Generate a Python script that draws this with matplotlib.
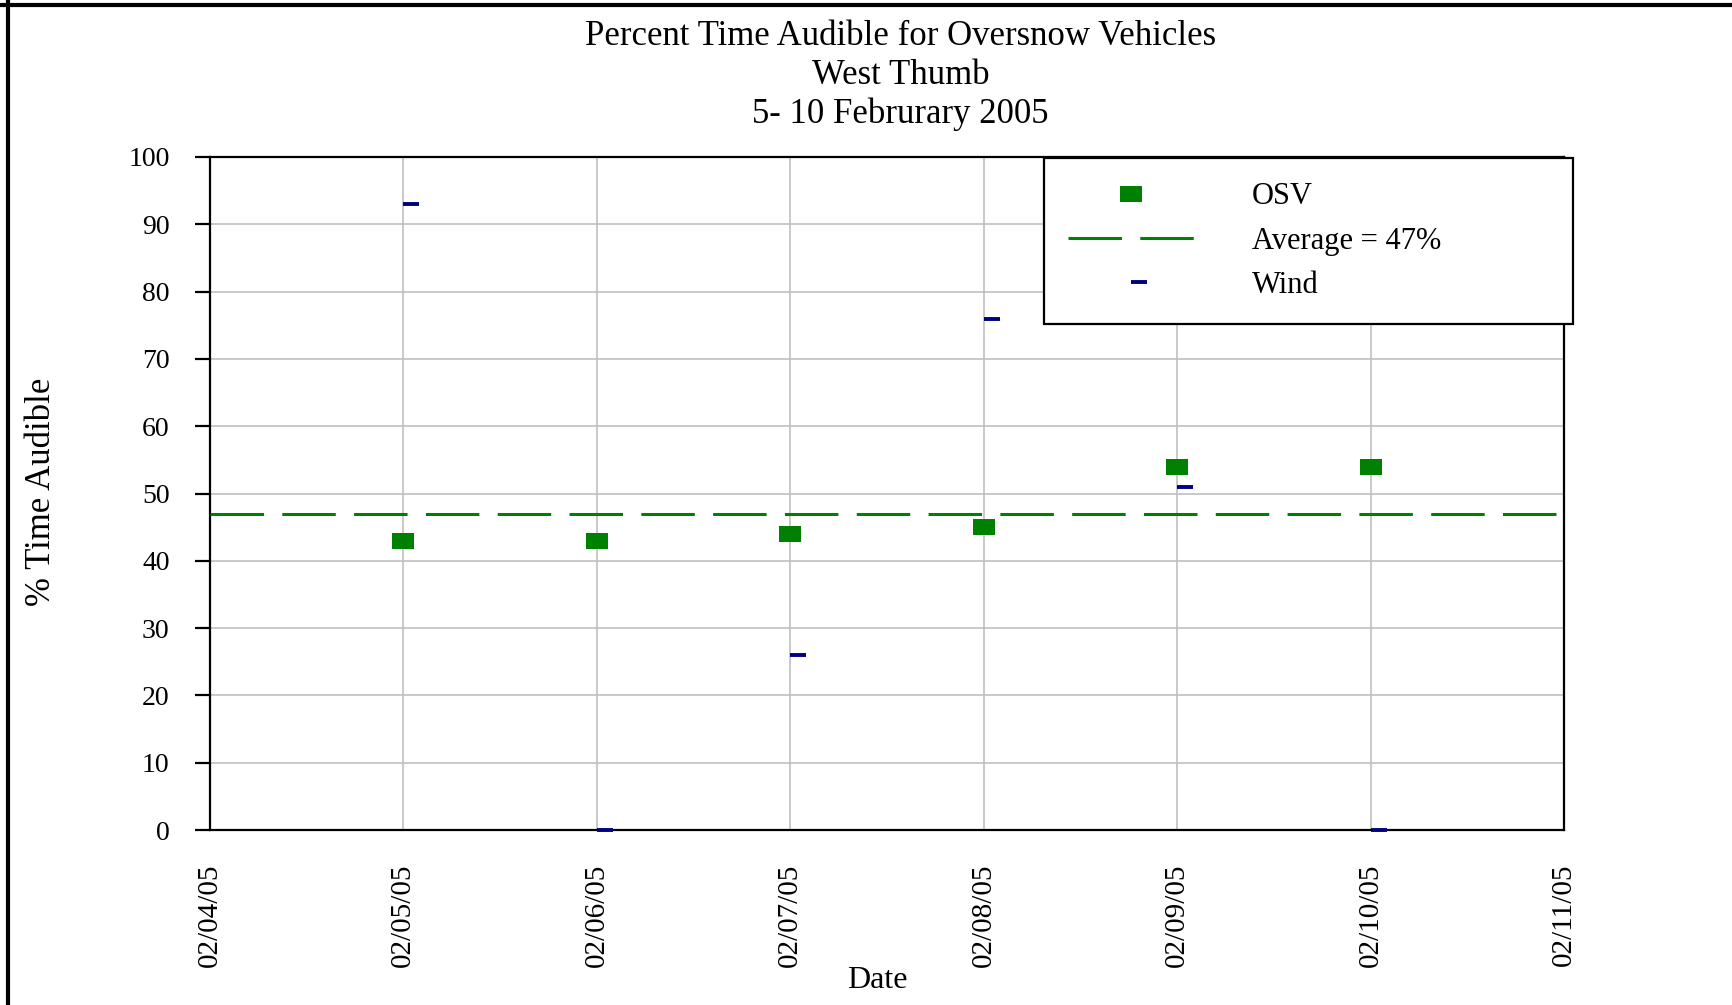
import pandas as pd
import matplotlib
matplotlib.use('Agg')
import matplotlib.pyplot as plt
import matplotlib.dates as mdates
from matplotlib.lines import Line2D

# data
dates = ['2005-02-05', '2005-02-06', '2005-02-07', '2005-02-08', '2005-02-09', '2005-02-10']
osv_pct = [43, 43, 44, 45, 54, 54]
wind_pct = [93, 0, 26, 76, 51, 0]
average_pct = 47
x_start = '2005-02-04'
x_end = '2005-02-11'

title_lines = ['Percent Time Audible for Oversnow Vehicles', 'West Thumb', '5- 10 Februrary 2005']

plt.rcParams['font.family'] = ['Liberation Serif', 'DejaVu Serif']

x = pd.to_datetime(dates)

fig = plt.figure(figsize=(17.32, 10.05), dpi=100)
ax = fig.add_axes([0.1212, 0.1741, 0.7818, 0.6697])

# rectangle marker for OSV, short dash starting at the point for wind
osv_marker = [(-1, -0.68), (1, -0.68), (1, 0.68), (-1, 0.68), (-1, -0.68)]
wind_marker = [(0, 0), (1, 0)]

ax.plot(x, osv_pct, linestyle='none', marker=osv_marker, markersize=16,
        color='#008000', markeredgewidth=0, label='OSV', zorder=4)
ax.axhline(average_pct, color='#008000', linewidth=2.2,
           linestyle=(0, (17.5, 6)), label=f'Average = {average_pct}%', zorder=3)
ax.plot(x, wind_pct, linestyle='none', marker=wind_marker, markersize=23,
        color='#000080', markeredgewidth=2.8, label='Wind', zorder=5, clip_on=False)

ax.set_xlim(pd.Timestamp(x_start), pd.Timestamp(x_end))
ax.set_ylim(0, 100)
ax.set_yticks(range(0, 101, 10))
ax.xaxis.set_major_locator(mdates.DayLocator())
ax.xaxis.set_major_formatter(mdates.DateFormatter('%m/%d/%y'))

ax.grid(True, color='#c0c0c0', linewidth=1.2)
ax.set_axisbelow(True)
for s in ax.spines.values():
    s.set_color('black')
    s.set_linewidth(1.6)

ax.tick_params(axis='y', direction='out', length=11, width=1.6, pad=18, labelsize=20)
ax.tick_params(axis='x', length=0, pad=24, labelsize=21, labelrotation=90)
for lbl in ax.get_xticklabels():
    lbl.set_verticalalignment('top')

ax.set_ylabel('% Time Audible', fontsize=25)
ax.yaxis.set_label_coords(-0.112, 0.502)
ax.set_xlabel('Date', fontsize=23, va='center')
ax.xaxis.set_label_coords(0.493, -0.223)

fig.text(0.52, 0.925, '\n'.join(title_lines), ha='center', va='center',
         fontsize=25, linespacing=1.23)

leg = ax.legend(loc='upper left', bbox_to_anchor=(0.6028, 0.6806, 0.3054, 0.1622),
                bbox_transform=fig.transFigure, mode='expand', borderaxespad=0,
                fontsize=22, handlelength=4.1, handletextpad=1.9, borderpad=0.8,
                labelspacing=0.5, fancybox=False, framealpha=1, edgecolor='black')
leg.get_frame().set_linewidth(1.6)

# frame around the page (top and left edges only visible)
fig.add_artist(Line2D([0, 1], [0.995, 0.995], transform=fig.transFigure, color='black', linewidth=3))
fig.add_artist(Line2D([0.0046, 0.0046], [0, 1], transform=fig.transFigure, color='black', linewidth=3))

fig.savefig('out.png', dpi=100)
